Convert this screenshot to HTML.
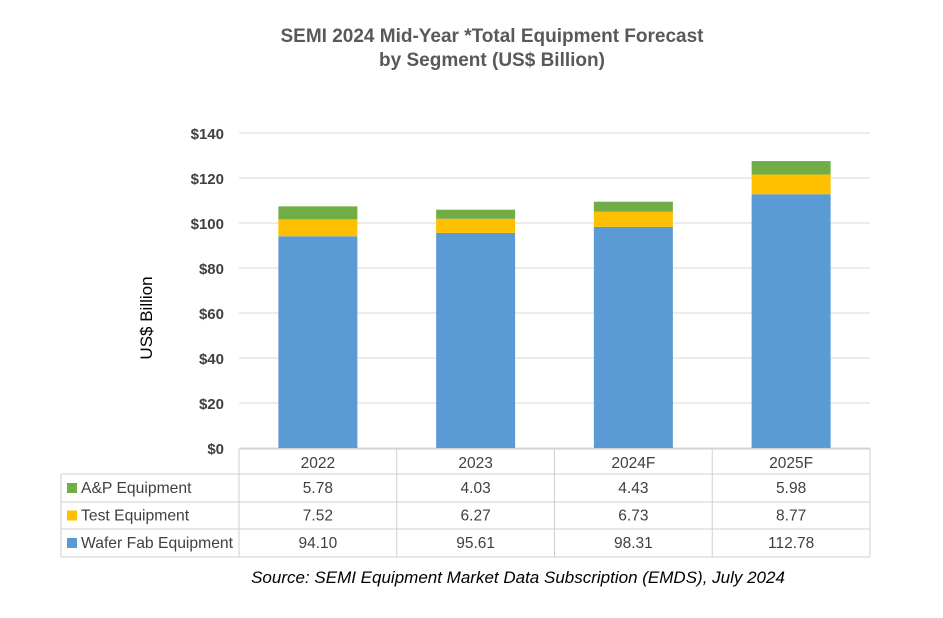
<!DOCTYPE html>
<html><head><meta charset="utf-8"><style>
body{margin:0;background:#fff;width:943px;height:613px;overflow:hidden}
svg text{font-family:"Liberation Sans",sans-serif}
</style></head><body>
<svg width="943" height="613" id="c">
<text x="492" y="42" text-anchor="middle" font-size="19" font-weight="bold" fill="#595959">SEMI 2024 Mid-Year *Total Equipment Forecast</text>
<text x="492" y="66" text-anchor="middle" font-size="19" font-weight="bold" fill="#595959">by Segment (US$ Billion)</text>
<text transform="translate(152,318) rotate(-90)" text-anchor="middle" font-size="17" fill="#000">US$ Billion</text>
<text x="518" y="583" text-anchor="middle" font-size="17" font-style="italic" fill="#000">Source: SEMI Equipment Market Data Subscription (EMDS), July 2024</text>
<g id="grid"></g><g id="bars"></g><g id="table"></g>
</svg>
<script>
const categories=["2022","2023","2024F","2025F"];
const seriesNames=["A&P Equipment","Test Equipment","Wafer Fab Equipment"];
const wafer=[94.10,95.61,98.31,112.78];
const test=[7.52,6.27,6.73,8.77];
const ap=[5.78,4.03,4.43,5.98];
const yTicks=[0,20,40,60,80,100,120,140];
const colors={ap:"#70AD47",test:"#FFC000",wafer:"#5B9BD5"};
const NS="http://www.w3.org/2000/svg";
const x0=239,x1=870,y0=448,yTop=133,yMax=140;
const band=(x1-x0)/categories.length;
const y=v=>y0-(v/yMax)*(y0-yTop);
const xc=i=>x0+band*(i+0.5);
function mk(tag,attrs,parent,txt){const e=document.createElementNS(NS,tag);for(const k in attrs)e.setAttribute(k,attrs[k]);if(txt!==undefined)e.textContent=txt;parent.appendChild(e);return e;}
const grid=document.getElementById('grid');
yTicks.forEach(t=>{
 const l=mk('line',{x1:x0,x2:x1,y1:y(t),y2:y(t),stroke:'#d9d9d9','stroke-width':1},grid);
 
 
 const tx=mk('text',{x:224,y:y(t)+6,'text-anchor':'end','font-size':15,'font-weight':'bold',fill:'#404040'},grid,'$'+t);
 
 
});
const bars=document.getElementById('bars');
const bw=79;
categories.forEach((c,i)=>{
 let base=0;
 [[wafer,'wafer'],[test,'test'],[ap,'ap']].forEach(([arr,k])=>{
  const v=arr[i];
  const r=mk('rect',{x:xc(i)-bw/2,y:y(base+v),width:bw,height:y(base)-y(base+v),fill:colors[k]},bars);
  
  
  base+=v;
 });
});
const tb=document.getElementById('table');
const rows=[449,474,502,529,557];
const L=61;
const st={stroke:'#d0d0d0','stroke-width':1,fill:'none'};
mk('line',Object.assign({x1:x0,x2:x1,y1:rows[0],y2:rows[0]},st),tb);
for(let r=1;r<rows.length;r++)mk('line',Object.assign({x1:L,x2:x1,y1:rows[r],y2:rows[r]},st),tb);
mk('line',Object.assign({x1:L,x2:L,y1:rows[1],y2:rows[4]},st),tb);
for(let i=0;i<=categories.length;i++)mk('line',Object.assign({x1:x0+band*i,x2:x0+band*i,y1:rows[0],y2:rows[4]},st),tb);
categories.forEach((c,i)=>{
 const t=mk('text',{x:xc(i),y:rows[0]+19,'text-anchor':'middle','font-size':15.5,fill:'#404040'},tb,c);
 
 
});
const rowData=[ap,test,wafer],rowKeys=['ap','test','wafer'];
rowData.forEach((arr,r)=>{
 const ym=(rows[r+1]+rows[r+2])/2;
 const sw=mk('rect',{x:67,y:ym-5,width:10,height:10,fill:colors[rowKeys[r]]},tb);
 
 
 const lb=mk('text',{x:81,y:ym+5,'font-size':15.7,fill:'#404040'},tb,seriesNames[r]);
 
 
 arr.forEach((v,i)=>{
  const t=mk('text',{x:xc(i),y:ym+5,'text-anchor':'middle','font-size':15.5,fill:'#404040'},tb,v.toFixed(2));
  
  
 });
});
</script>
</body></html>
